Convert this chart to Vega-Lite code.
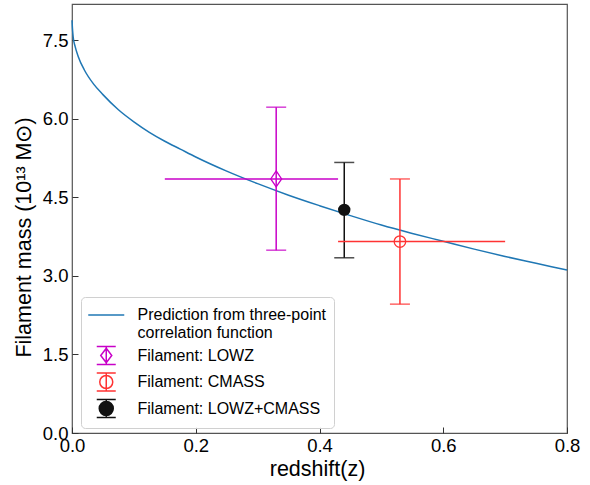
{
  "$schema": "https://vega.github.io/schema/vega-lite/v6.json",
  "width": 495,
  "height": 429,
  "autosize": {"type": "none"},
  "padding": {"left": 72, "top": 4, "right": 23, "bottom": 52},
  "background": "white",
  "config": {
    "font": "Liberation Sans",
    "view": {"stroke": "#555555", "strokeWidth": 1.2},
    "axis": {
      "grid": false,
      "domain": false,
      "tickSize": -6,
      "tickColor": "#333333",
      "tickWidth": 1,
      "labelFontSize": 18.5,
      "labelColor": "black",
      "titleFontSize": 21.5,
      "titleFontWeight": "normal",
      "titleColor": "black"
    }
  },
  "datasets": {
    "curve": [
      {"series": "Prediction from three-point correlation function", "z": 0.0001, "m": 7.88},
      {"series": "Prediction from three-point correlation function", "z": 0.0005, "m": 7.77},
      {"series": "Prediction from three-point correlation function", "z": 0.001, "m": 7.68},
      {"series": "Prediction from three-point correlation function", "z": 0.002, "m": 7.55},
      {"series": "Prediction from three-point correlation function", "z": 0.005, "m": 7.38},
      {"series": "Prediction from three-point correlation function", "z": 0.01, "m": 7.19},
      {"series": "Prediction from three-point correlation function", "z": 0.02, "m": 6.93},
      {"series": "Prediction from three-point correlation function", "z": 0.035, "m": 6.66},
      {"series": "Prediction from three-point correlation function", "z": 0.05, "m": 6.46},
      {"series": "Prediction from three-point correlation function", "z": 0.075, "m": 6.17},
      {"series": "Prediction from three-point correlation function", "z": 0.1, "m": 5.94},
      {"series": "Prediction from three-point correlation function", "z": 0.125, "m": 5.74},
      {"series": "Prediction from three-point correlation function", "z": 0.15, "m": 5.57},
      {"series": "Prediction from three-point correlation function", "z": 0.175, "m": 5.42},
      {"series": "Prediction from three-point correlation function", "z": 0.2, "m": 5.27},
      {"series": "Prediction from three-point correlation function", "z": 0.25, "m": 5.0},
      {"series": "Prediction from three-point correlation function", "z": 0.3, "m": 4.76},
      {"series": "Prediction from three-point correlation function", "z": 0.35, "m": 4.54},
      {"series": "Prediction from three-point correlation function", "z": 0.4, "m": 4.34},
      {"series": "Prediction from three-point correlation function", "z": 0.45, "m": 4.15},
      {"series": "Prediction from three-point correlation function", "z": 0.5, "m": 3.97},
      {"series": "Prediction from three-point correlation function", "z": 0.55, "m": 3.81},
      {"series": "Prediction from three-point correlation function", "z": 0.6, "m": 3.66},
      {"series": "Prediction from three-point correlation function", "z": 0.65, "m": 3.51},
      {"series": "Prediction from three-point correlation function", "z": 0.7, "m": 3.37},
      {"series": "Prediction from three-point correlation function", "z": 0.75, "m": 3.24},
      {"series": "Prediction from three-point correlation function", "z": 0.8, "m": 3.11}
    ],
    "points": [
      {"series": "Filament: LOWZ", "z": 0.33, "m": 4.85, "m_lo": 3.49, "m_hi": 6.22, "z_lo": 0.15, "z_hi": 0.43},
      {"series": "Filament: CMASS", "z": 0.53, "m": 3.655, "m_lo": 2.46, "m_hi": 4.85, "z_lo": 0.43, "z_hi": 0.70},
      {"series": "Filament: LOWZ+CMASS", "z": 0.44, "m": 4.26, "m_lo": 3.345, "m_hi": 5.165}
    ]
  },
  "encoding": {
    "x": {
      "field": "z",
      "type": "quantitative",
      "scale": {"domain": [0, 0.8], "nice": false, "zero": false},
      "axis": {
        "values": [0, 0.2, 0.4, 0.6, 0.8],
        "format": ".1f",
        "title": "redshift(z)",
        "labelFlush": false,
        "labelPadding": 9,
        "titleX": 245,
        "titleY": 42,
        "titleBaseline": "alphabetic",
        "titleAlign": "center",
        "titleAnchor": null
      }
    },
    "y": {
      "field": "m",
      "type": "quantitative",
      "scale": {"domain": [0, 8.19], "nice": false},
      "axis": {
        "values": [0, 1.5, 3, 4.5, 6, 7.5],
        "format": ".1f",
        "title": "Filament mass (10¹³ M⊙)",
        "labelPadding": 10,
        "titleX": -42,
        "titleY": 233,
        "titleAngle": -90,
        "titleBaseline": "alphabetic",
        "titleAlign": "center",
        "titleAnchor": null
      }
    },
    "color": {
      "field": "series",
      "type": "nominal",
      "scale": {
        "domain": ["Prediction from three-point correlation function", "Filament: LOWZ", "Filament: CMASS", "Filament: LOWZ+CMASS"],
        "range": ["#1f77b4", "#c800c8", "#ff3333", "#111111"]
      }
    }
  },
  "layer": [
    {
      "data": {"name": "curve"},
      "mark": {"type": "line", "strokeWidth": 1.5, "interpolate": "monotone"},
      "encoding": {
        "color": {
          "field": "series",
          "type": "nominal",
          "legend": {
            "orient": "none",
            "legendX": 9,
            "legendY": 293,
            "title": null,
            "padding": 7,
            "cornerRadius": 4,
            "strokeColor": "#d0d0d0",
            "fillColor": "rgba(255,255,255,0.85)",
            "symbolSize": 400,
            "symbolStrokeWidth": 1.5,
            "labelOffset": 27.5,
            "labelFontSize": 16,
            "labelColor": "black",
            "labelLimit": 300,
            "rowPadding": 2.5,
            "labelExpr": "datum.value == 'Prediction from three-point correlation function' ? ['Prediction from three-point', 'correlation function'] : datum.label",
            "encode": {
              "symbols": {
                "update": {
                  "shape": {"signal": "datum.index == 0 ? 'M-1.075,0H2.525' : datum.index == 1 ? 'M0.725,-0.9V0.9M-0.225,-0.9H1.675M-0.225,0.9H1.675M0.725,-0.72L1.275,0L0.725,0.72L0.175,0Z' : datum.index == 2 ? 'M0.725,-0.9V0.9M-0.225,-0.9H1.675M-0.225,0.9H1.675M1.375,0A0.65,0.65,0,1,1,0.075,0A0.65,0.65,0,1,1,1.375,0Z' : 'M0.725,-0.9V0.9M-0.225,-0.9H1.675M-0.225,0.9H1.675M1.425,0A0.7,0.7,0,1,1,0.025,0A0.7,0.7,0,1,1,1.425,0Z'"},
                  "fill": {"signal": "datum.index == 3 ? '#000000' : 'transparent'"},
                  "fillOpacity": {"signal": "datum.index == 3 ? 1 : 0"},
                  "stroke": {"signal": "scale('color', datum.value)"},
                  "strokeWidth": {"value": 1.5},
                  "size": {"value": 400},
                  "opacity": {"value": 1}
                }
              },
              "labels": {"update": {"lineHeight": {"value": 18}}}
            }
          }
        }
      }
    },
    {
      "data": {"name": "points"},
      "mark": {"type": "rule", "strokeWidth": 1.5},
      "encoding": {
        "y": {"field": "m_lo", "type": "quantitative"},
        "y2": {"field": "m_hi"}
      }
    },
    {
      "data": {"name": "points"},
      "transform": [{"filter": {"field": "z_lo", "valid": true}}],
      "mark": {"type": "rule", "strokeWidth": 1.5},
      "encoding": {
        "x": {"field": "z_lo", "type": "quantitative"},
        "x2": {"field": "z_hi"}
      }
    },
    {
      "data": {"name": "points"},
      "mark": {"type": "tick", "orient": "horizontal", "size": 20, "thickness": 1.5, "opacity": 0.75},
      "encoding": {
        "y": {"field": "m_hi", "type": "quantitative"}
      }
    },
    {
      "data": {"name": "points"},
      "mark": {"type": "tick", "orient": "horizontal", "size": 20, "thickness": 1.5, "opacity": 0.75},
      "encoding": {
        "y": {"field": "m_lo", "type": "quantitative"}
      }
    },
    {
      "data": {"name": "points"},
      "transform": [{"filter": {"field": "series", "equal": "Filament: LOWZ"}}],
      "mark": {"type": "point", "shape": "M0,-1L0.68,0L0,1L-0.68,0Z", "size": 256, "filled": false, "strokeWidth": 1.3, "opacity": 1}
    },
    {
      "data": {"name": "points"},
      "transform": [{"filter": {"field": "series", "equal": "Filament: CMASS"}}],
      "mark": {"type": "point", "shape": "circle", "size": 133, "filled": false, "strokeWidth": 1.3, "opacity": 1}
    },
    {
      "data": {"name": "points"},
      "transform": [{"filter": {"field": "series", "equal": "Filament: LOWZ+CMASS"}}],
      "mark": {"type": "point", "shape": "circle", "size": 154, "filled": true, "opacity": 1}
    }
  ]
}
